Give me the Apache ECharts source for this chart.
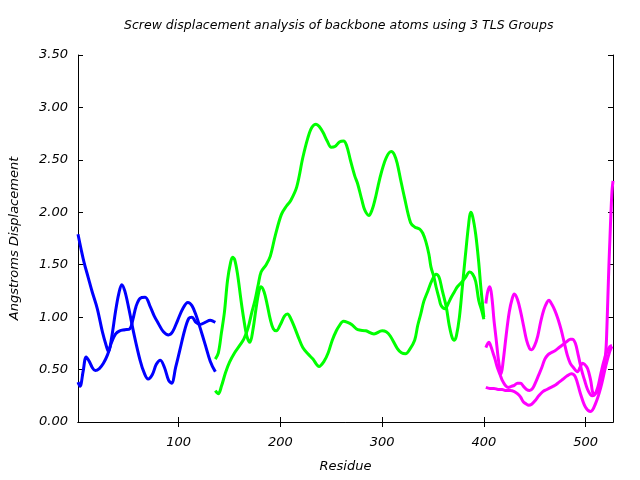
<!DOCTYPE html>
<html>
<head>
<meta charset="utf-8">
<script src="https://cdn.jsdelivr.net/npm/echarts@6/dist/echarts.min.js"></script>
<style>html,body{margin:0;padding:0;background:#fff}#c{width:640px;height:480px}</style>
</head>
<body>
<div id="c"></div>
<script>
// ---- data ----
const xTicks = [100, 200, 300, 400, 500];

const blueAx = [1, 4, 7, 11, 15, 20, 25, 29, 31, 34, 38, 41, 44, 47, 51, 56, 62, 66, 70, 74, 78, 82, 86, 90, 93, 97, 101, 106, 110, 113, 117, 121, 126, 131, 134, 136];
const blueAy = [1.79, 1.65, 1.52, 1.38, 1.24, 1.08, 0.86, 0.72, 0.67, 0.80, 1.06, 1.22, 1.31, 1.25, 1.08, 0.84, 0.59, 0.47, 0.41, 0.45, 0.55, 0.59, 0.52, 0.40, 0.37, 0.52, 0.68, 0.88, 0.99, 1.00, 0.95, 0.93, 0.95, 0.97, 0.96, 0.95];

const blueBx = [1, 3, 6, 9, 12, 15, 18, 22, 26, 30, 34, 38, 42, 47, 52, 55, 58, 62, 67, 72, 76, 80, 85, 90, 94, 99, 104, 109, 113, 117, 121, 126, 131, 136];
const blueBy = [0.38, 0.34, 0.48, 0.62, 0.58, 0.52, 0.49, 0.51, 0.56, 0.64, 0.76, 0.84, 0.87, 0.88, 0.89, 0.98, 1.10, 1.18, 1.19, 1.10, 1.01, 0.94, 0.86, 0.83, 0.86, 0.97, 1.08, 1.14, 1.11, 1.02, 0.90, 0.74, 0.58, 0.48];

const greenCx = [136, 139, 142, 145, 148, 151, 153, 155, 158, 161, 164, 167, 170, 173, 176, 179, 181, 184, 187, 190, 193, 196, 200, 204, 207, 210, 214, 218, 222, 227, 232, 238, 243, 247, 251, 255, 258, 262, 266, 270, 276, 284, 292, 300, 304, 308, 315, 319, 323, 327, 332, 335, 338, 341, 345, 349, 353, 356, 359, 363, 366, 369, 371, 373, 376, 379, 382, 385, 387, 389, 392, 395, 397, 399, 400];
const greenCy = [0.60, 0.66, 0.85, 1.05, 1.35, 1.52, 1.57, 1.55, 1.40, 1.18, 0.98, 0.82, 0.76, 0.88, 1.08, 1.25, 1.29, 1.24, 1.12, 0.98, 0.89, 0.87, 0.93, 1.01, 1.03, 0.99, 0.90, 0.80, 0.71, 0.65, 0.60, 0.53, 0.58, 0.66, 0.78, 0.87, 0.92, 0.96, 0.95, 0.93, 0.88, 0.87, 0.84, 0.87, 0.86, 0.82, 0.70, 0.66, 0.65, 0.69, 0.78, 0.92, 1.03, 1.15, 1.25, 1.35, 1.41, 1.38, 1.26, 1.10, 0.92, 0.80, 0.78, 0.82, 1.00, 1.30, 1.60, 1.88, 2.00, 1.96, 1.79, 1.52, 1.29, 1.10, 1.00];

const greenDx = [136, 139, 142, 146, 150, 155, 160, 164, 168, 172, 175, 178, 181, 186, 190, 195, 201, 206, 210, 216, 222, 227, 231, 235, 238, 242, 246, 250, 254, 258, 262, 265, 269, 273, 276, 280, 283, 287, 290, 293, 296, 299, 304, 309, 312, 315, 318, 322, 328, 332, 337, 340, 343, 346, 348, 351, 353, 356, 358, 362, 365, 368, 371, 374, 378, 382, 386, 389, 392, 395, 398, 400];
const greenDy = [0.30, 0.27, 0.34, 0.47, 0.57, 0.66, 0.73, 0.79, 0.89, 1.05, 1.16, 1.30, 1.43, 1.50, 1.58, 1.78, 1.98, 2.06, 2.11, 2.24, 2.52, 2.71, 2.81, 2.84, 2.82, 2.76, 2.68, 2.62, 2.63, 2.67, 2.68, 2.64, 2.49, 2.35, 2.27, 2.12, 2.02, 1.97, 2.02, 2.12, 2.25, 2.37, 2.52, 2.58, 2.55, 2.46, 2.32, 2.14, 1.90, 1.86, 1.84, 1.80, 1.72, 1.60, 1.48, 1.38, 1.29, 1.18, 1.11, 1.08, 1.13, 1.19, 1.24, 1.29, 1.33, 1.38, 1.43, 1.41, 1.34, 1.16, 1.06, 0.98];

const magEx = [402, 404, 406, 408, 410, 412, 414, 416, 417, 419, 422, 425, 428, 430, 433, 436, 439, 442, 445, 447, 450, 453, 456, 459, 462, 464, 467, 470, 473, 476, 479, 482, 485, 488, 492, 495, 497, 499, 502, 505, 508, 511, 514, 516, 518, 520, 521, 522, 523, 524, 525, 526, 527];
const magEy = [1.13, 1.25, 1.29, 1.18, 0.97, 0.80, 0.62, 0.49, 0.46, 0.58, 0.83, 1.05, 1.18, 1.22, 1.17, 1.06, 0.92, 0.78, 0.70, 0.69, 0.73, 0.82, 0.96, 1.07, 1.14, 1.16, 1.12, 1.06, 0.98, 0.88, 0.76, 0.64, 0.56, 0.52, 0.48, 0.53, 0.56, 0.55, 0.51, 0.40, 0.27, 0.28, 0.36, 0.43, 0.52, 0.68, 0.90, 1.20, 1.50, 1.75, 2.00, 2.20, 2.30];

const magFx = [402, 404, 405, 407, 409, 411, 413, 416, 418, 421, 424, 427, 430, 433, 436, 439, 442, 445, 448, 451, 454, 457, 460, 463, 466, 470, 474, 478, 482, 485, 487, 490, 493, 496, 499, 502, 505, 507, 509, 512, 515, 518, 521, 524, 526];
const magFy = [0.71, 0.75, 0.76, 0.72, 0.66, 0.60, 0.53, 0.45, 0.40, 0.35, 0.33, 0.34, 0.35, 0.37, 0.37, 0.34, 0.31, 0.30, 0.32, 0.38, 0.45, 0.52, 0.60, 0.64, 0.66, 0.68, 0.71, 0.74, 0.77, 0.79, 0.79, 0.75, 0.63, 0.50, 0.40, 0.31, 0.26, 0.25, 0.26, 0.33, 0.46, 0.58, 0.67, 0.72, 0.73];

const magGx = [402, 406, 410, 414, 418, 422, 426, 430, 433, 436, 439, 442, 444, 447, 451, 454, 458, 462, 466, 470, 474, 478, 482, 486, 490, 495, 500, 505, 510, 515, 520, 524, 526];
const magGy = [0.33, 0.32, 0.32, 0.31, 0.31, 0.30, 0.30, 0.29, 0.27, 0.24, 0.19, 0.17, 0.16, 0.17, 0.21, 0.25, 0.29, 0.31, 0.33, 0.35, 0.38, 0.41, 0.44, 0.46, 0.43, 0.27, 0.14, 0.10, 0.18, 0.33, 0.54, 0.68, 0.72];

// ---- chart ----
const zip = (xs, ys) => xs.map((x, i) => [x, ys[i]]);
const FONT = 'DejaVu Sans';
const lineSeries = (xs, ys, color) => ({
  type: 'line', data: zip(xs, ys), showSymbol: false, smooth: 0.35,
  lineStyle: { color: color, width: 3 }, itemStyle: { color: color },
  xAxisIndex: 0, yAxisIndex: 0, z: 3, animation: false
});
const tickStyle = { show: true, inside: true, length: 5, lineStyle: { color: '#000', width: 1 } };
const lineStyle = { show: true, lineStyle: { color: '#000', width: 1 } };

const chart = echarts.init(document.getElementById('c'), null, { renderer: 'canvas' });
chart.setOption({
  animation: false,
  backgroundColor: '#fff',
  title: {
    text: 'Screw displacement analysis of backbone atoms using 3 TLS Groups',
    left: 124, top: 19, padding: 0,
    textStyle: { fontFamily: FONT, fontStyle: 'italic', fontWeight: 'normal', fontSize: 12.5, color: '#000' }
  },
  grid: { left: 76, right: 27, top: 55, bottom: 58, containLabel: false },
  xAxis: [
    {
      type: 'value', min: 1, max: 527, position: 'bottom',
      name: 'Residue', nameLocation: 'middle', nameGap: 38,
      nameTextStyle: { fontFamily: FONT, fontStyle: 'italic', fontSize: 13, color: '#000' },
      axisLine: lineStyle,
      axisTick: Object.assign({}, tickStyle, { customValues: xTicks }),
      axisLabel: { customValues: xTicks, margin: 14, fontFamily: FONT, fontStyle: 'italic', fontSize: 13, color: '#000' },
      splitLine: { show: false }
    },
    {
      type: 'value', min: 1, max: 527, position: 'top',
      axisLine: lineStyle,
      axisTick: Object.assign({}, tickStyle, { customValues: xTicks }),
      axisLabel: { show: false }, splitLine: { show: false }
    }
  ],
  yAxis: [
    {
      type: 'value', min: 0, max: 3.5, interval: 0.5, position: 'left',
      name: 'Angstroms Displacement', nameLocation: 'middle', nameGap: 57,
      nameTextStyle: { fontFamily: FONT, fontStyle: 'italic', fontSize: 13, color: '#000' },
      axisLine: lineStyle, axisTick: tickStyle,
      axisLabel: { margin: 10, fontFamily: FONT, fontStyle: 'italic', fontSize: 13, color: '#000', formatter: v => v.toFixed(2) },
      splitLine: { show: false }
    },
    {
      type: 'value', min: 0, max: 3.5, interval: 0.5, position: 'right',
      axisLine: lineStyle, axisTick: tickStyle,
      axisLabel: { show: false }, splitLine: { show: false }
    }
  ],
  series: [
    lineSeries(blueAx, blueAy, '#0000ff'),
    lineSeries(blueBx, blueBy, '#0000ff'),
    lineSeries(greenCx, greenCy, '#00ff00'),
    lineSeries(greenDx, greenDy, '#00ff00'),
    lineSeries(magEx, magEy, '#ff00ff'),
    lineSeries(magFx, magFy, '#ff00ff'),
    lineSeries(magGx, magGy, '#ff00ff')
  ]
});
</script>
</body>
</html>
